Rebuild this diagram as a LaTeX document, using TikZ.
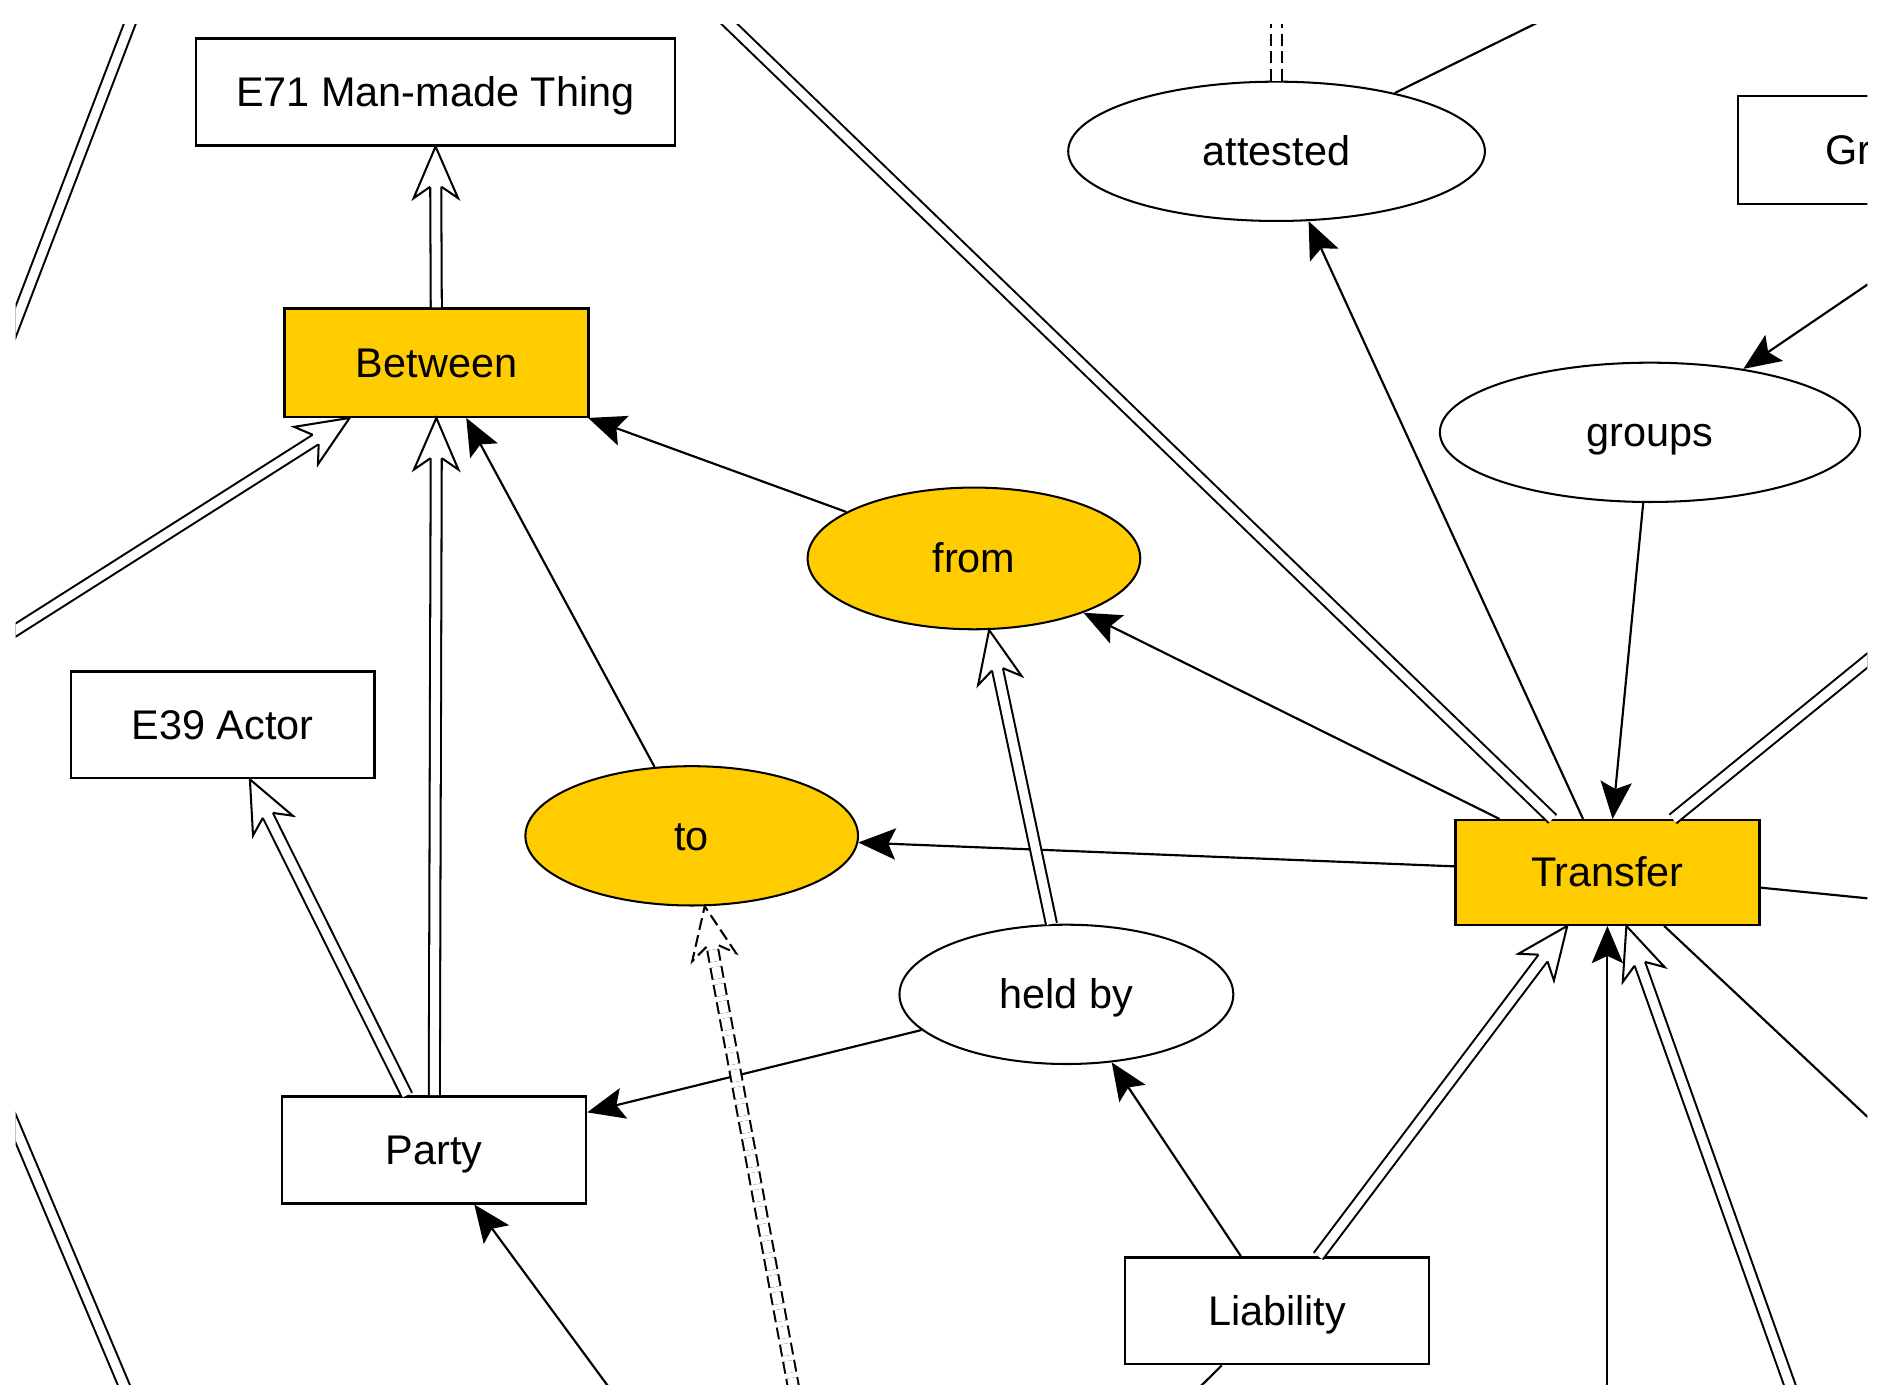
\documentclass[tikz,border=0pt]{standalone}
\usepackage{fontspec}
\setmainfont{Liberation Sans}
\usetikzlibrary{arrows.meta,calc,shapes.geometric}
\definecolor{gold}{RGB}{255,204,0}
\tikzset{
  rbox/.style={draw, line width=2pt, rectangle, fill=white, inner sep=0pt,
    minimum width=253pt, minimum height=89pt, text height=24pt, text depth=0pt},
  ebox/.style={draw, line width=1.7pt, ellipse, fill=white, inner sep=0pt,
    minimum width=277pt, minimum height=116pt, text height=24pt, text depth=0pt},
  hl/.style={fill=gold},
  sline/.style={line width=1.8pt},
  sarr/.style={line width=1.8pt, -{Stealth[length=31pt,width=26pt,inset=6pt]}},
  dbl/.style={line width=1.7pt, double=white, double distance=7.5pt},
  dsh/.style={dash pattern=on 10pt off 4.5pt},
  headst/.style={line width=1.7pt, fill=white, line join=miter},
}
% double line with open arrow head at the target
\newcommand\dblarr[3][]{%
  \path (#2) -- (#3) coordinate[pos=0] (da) coordinate[pos=1] (db);
  \draw[dbl,#1,shorten >=20pt] (#2) -- (#3);
  \coordinate (dP) at ($(db)!43pt!(da)$);
  \coordinate (dN) at ($(db)!33.5pt!(da)$);
  \coordinate (dP1) at ($(dP)!18.5pt!90:(db)$);
  \coordinate (dP2) at ($(dP)!18.5pt!-90:(db)$);
  \coordinate (dN1) at ($(dN)!4.65pt!90:(db)$);
  \coordinate (dN2) at ($(dN)!4.65pt!-90:(db)$);
  \draw[headst,#1] (dN1) -- (dP1) -- (db) -- (dP2) -- (dN2);
}
\begin{document}
\begin{tikzpicture}[x=1pt,y=-1pt,font=\fontsize{34.5}{41}\selectfont]
\useasboundingbox (0,0) rectangle (1568,1163);
\fill[white] (0,0) rectangle (1568,1163);
\clip (13,20) rectangle (1555,1153);

% nodes
\node[rbox, minimum width=399pt] (e71) at (362.5,76.5) {E71 Man-made Thing};
\node[rbox, hl, minimum height=90pt] (between) at (363.5,302) {Between};
\node[rbox] (e39) at (185.5,603.5) {E39 Actor};
\node[rbox] (party) at (361.5,957.5) {Party};
\node[rbox] (liability) at (1063.5,1091.5) {Liability};
\node[rbox, hl, minimum height=87pt] (transfer) at (1338.5,726.5) {Transfer};
\node[rbox, minimum height=90pt] (grp) at (1573.5,125) {};
\node[anchor=west, inner sep=0pt, text height=24pt, text depth=0pt] (grptext) at (1520,125) {Gr};

\node[ebox, minimum width=347pt] (attested) at (1063,126) {attested};
\node[ebox, minimum width=350pt] (groups) at (1374,360) {groups};
\node[ebox, hl, minimum height=118pt] (from) at (811,465) {from};
\node[ebox, hl] (to) at (576,696) {to};
\node[ebox, minimum width=278pt] (heldby) at (888,828) {held by};

% off-picture ends
\coordinate (offm) at (1338.5,1200);
\coordinate (offg) at (1680,152);
\coordinate (offp) at (540,1200);
\coordinate (offs) at (1620,754.5);
\coordinate (offt) at (1620,991);
\coordinate (offw) at (1359,-20);
\coordinate (offbb) at (953.5,1200);
\coordinate (offq) at (566,-20);
\coordinate (offr) at (1620,497);
\coordinate (offx1) at (-15.5,342.4);
\coordinate (offx2) at (122.3,-17.2);
\coordinate (offy1) at (-5,897);
\coordinate (offy2) at (121,1195.6);
\coordinate (offv) at (1063,-30);
\coordinate (offc) at (-30,552);
\coordinate (offn) at (1507,1200);
\coordinate (offaa) at (669,1200);

% single arrows
\draw[sarr] (to) -- (between);
\draw[sarr] (from) -- (between);
\draw[sarr] (transfer) -- (to);
\draw[sarr] (transfer) -- (from);
\draw[sarr] (heldby) -- (party);
\draw[sarr] (liability) -- (heldby);
\draw[sarr] (offm) -- (transfer);
\draw[sarr] (transfer) -- (attested);
\draw[sarr] (groups) -- (transfer);
\draw[sarr] (offg) -- (groups);
\draw[sarr] (offp) -- (party);

% plain lines
\draw[sline] (transfer) -- (offs);
\draw[sline] (transfer) -- (offt);
\draw[sline] (attested) -- (offw);
\draw[sline] (liability) -- (offbb);

% double lines without visible heads
\draw[dbl] (transfer) -- (offq);
\draw[dbl] (transfer) -- (offr);
\draw[dbl] (offx1) -- (offx2);
\draw[dbl] (offy1) -- (offy2);
\draw[dbl,dsh] (attested) -- (offv);

% double lines with open heads
\dblarr{between}{e71}
\dblarr{party}{between}
\dblarr{offc}{between}
\dblarr{party}{e39}
\dblarr{heldby}{from}
\dblarr{liability}{transfer}
\dblarr{offn}{transfer}
\dblarr[dsh]{offaa}{to}
\end{tikzpicture}
\end{document}
